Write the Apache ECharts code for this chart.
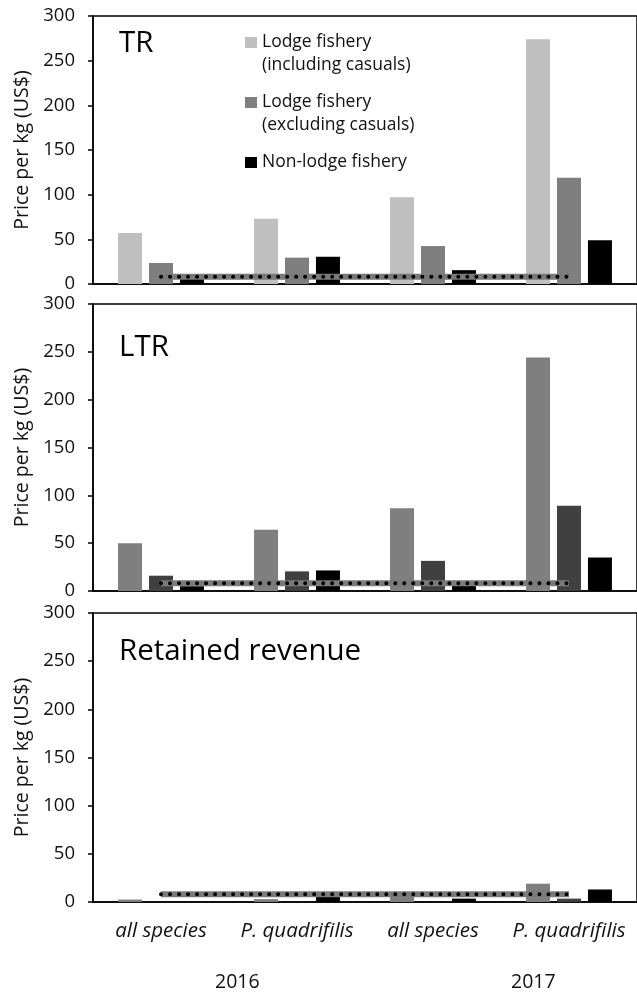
<!DOCTYPE html>
<html>
<head>
<meta charset="utf-8">
<script src="https://cdn.jsdelivr.net/npm/echarts@6/dist/echarts.min.js"></script>
<style>
  html, body { margin: 0; padding: 0; background: #fff; }
  #chart { width: 637px; height: 992px; }
</style>
</head>
<body>
<div id="chart"></div>
<script>
// Categories along the x axis (two per season)
const categories = ['all species', 'P. quadrifilis', 'all species', 'P. quadrifilis'];
const years = ['2016', '2017'];
const seriesNames = ['Lodge fishery\n(including casuals)', 'Lodge fishery\n(excluding casuals)', 'Non-lodge fishery'];
const panelTitles = ['TR', 'LTR', 'Retained revenue'];
const yTicks = [0, 50, 100, 150, 200, 250, 300];

// TR: total revenue per kg
const trLodgeIncl = [57, 73, 97, 274];
const trLodgeExcl = [23.5, 29.5, 42.5, 119];
const trNonLodge  = [6, 30.5, 15.5, 49];

// LTR: local total revenue per kg
const ltrLodgeIncl = [50, 64, 86.5, 244];
const ltrLodgeExcl = [16, 20.5, 31.5, 89];
const ltrNonLodge  = [5, 21.5, 9, 35];

// Retained revenue per kg
const rrLodgeIncl = [2.5, 3, 8, 19];
const rrLodgeExcl = [0, 0, 0, 3.5];
const rrNonLodge  = [0, 7, 3.5, 13];

// Reference price level drawn across each panel
const referencePrice = [8, 8, 8, 8];

const FONT = '"Open Sans", "Noto Sans", sans-serif';

const grids = [
  { left: 93, width: 555, top: 16, height: 268 },
  { left: 93, width: 555, top: 304, height: 287 },
  { left: 93, width: 555, top: 613, height: 289 }
].map(g => Object.assign(g, { show: true, borderColor: '#000', borderWidth: 1.5, backgroundColor: 'transparent' }));

const xAxes = grids.map((g, i) => ({
  type: 'category',
  gridIndex: i,
  data: categories,
  axisLine: { show: true, lineStyle: { color: '#000', width: 1.5 } },
  axisTick: { show: false },
  axisLabel: {
    show: i === 2,
    interval: 0,
    margin: 19,
    fontFamily: FONT,
    fontSize: 20.5,
    fontStyle: 'italic',
    color: '#111'
  }
}));

const yAxes = grids.map((g, i) => ({
  type: 'value',
  gridIndex: i,
  min: yTicks[0],
  max: yTicks[yTicks.length - 1],
  interval: 50,
  name: 'Price per kg (US$)',
  nameLocation: 'middle',
  nameGap: 47,
  nameTextStyle: { fontFamily: FONT, fontSize: 19.5, color: '#111' },
  axisLine: { show: true, lineStyle: { color: '#000', width: 1.5 } },
  axisTick: { show: true, length: 5, lineStyle: { color: '#000', width: 1.5 } },
  axisLabel: { margin: 18, fontFamily: FONT, fontSize: 18.5, color: '#111' },
  splitLine: { show: false }
}));

const panelColors = [
  ['#bfbfbf', '#7f7f7f', '#000000'],
  ['#7f7f7f', '#404040', '#000000'],
  ['#7f7f7f', '#404040', '#000000']
];
const panelData = [
  [trLodgeIncl, trLodgeExcl, trNonLodge],
  [ltrLodgeIncl, ltrLodgeExcl, ltrNonLodge],
  [rrLodgeIncl, rrLodgeExcl, rrNonLodge]
];

const series = [];
panelData.forEach((sets, p) => {
  sets.forEach((values, k) => {
    series.push({
      type: 'bar',
      name: seriesNames[k],
      xAxisIndex: p,
      yAxisIndex: p,
      data: values,
      barWidth: 24,
      barGap: '29%',
      itemStyle: { color: panelColors[p][k] },
      emphasis: { disabled: true },
      z: 2
    });
  });
  // grey band of the reference price
  series.push({
    type: 'line',
    name: 'Reference price band',
    xAxisIndex: p,
    yAxisIndex: p,
    data: referencePrice,
    symbol: 'none',
    lineStyle: { color: '#7a7a7a', width: 6 },
    silent: true,
    z: 3
  });
  // black dotted overlay
  series.push({
    type: 'line',
    name: 'Reference price',
    xAxisIndex: p,
    yAxisIndex: p,
    data: referencePrice,
    symbol: 'none',
    lineStyle: { color: '#000', width: 4, type: [0.01, 9], cap: 'round' },
    silent: true,
    z: 4
  });
});

const titles = panelTitles.map((t, i) => ({
  text: t,
  left: 119,
  top: [28, 332, 636][i],
  padding: 0,
  textStyle: { fontFamily: FONT, fontSize: 29.5, fontWeight: 'normal', color: '#000', lineHeight: 31 }
}));

const option = {
  animation: false,
  backgroundColor: '#fff',
  title: titles,
  legend: {
    orient: 'vertical',
    left: 245,
    top: 8,
    padding: 0,
    itemGap: -9,
    itemWidth: 12,
    itemHeight: 11,
    icon: 'rect',
    selectedMode: false,
    // a blank leading line keeps the swatch level with the first text line
    formatter: name => name.indexOf('\n') >= 0 ? '\n' + name : '\n' + name + '\n',
    textStyle: { fontFamily: FONT, fontSize: 17.5, color: '#111', lineHeight: 23 },
    data: [
      { name: seriesNames[0], itemStyle: { color: panelColors[0][0] } },
      { name: seriesNames[1], itemStyle: { color: panelColors[0][1] } },
      { name: seriesNames[2], itemStyle: { color: panelColors[0][2] } }
    ]
  },
  grid: grids,
  xAxis: xAxes,
  yAxis: yAxes,
  series: series,
  graphic: years.map((y, i) => ({
    type: 'text',
    left: [215, 511][i],
    top: 972,
    style: { text: y, font: '19.5px ' + FONT, fill: '#111' }
  }))
};

const chart = echarts.init(document.getElementById('chart'), null, { renderer: 'canvas' });
chart.setOption(option);
</script>
</body>
</html>
